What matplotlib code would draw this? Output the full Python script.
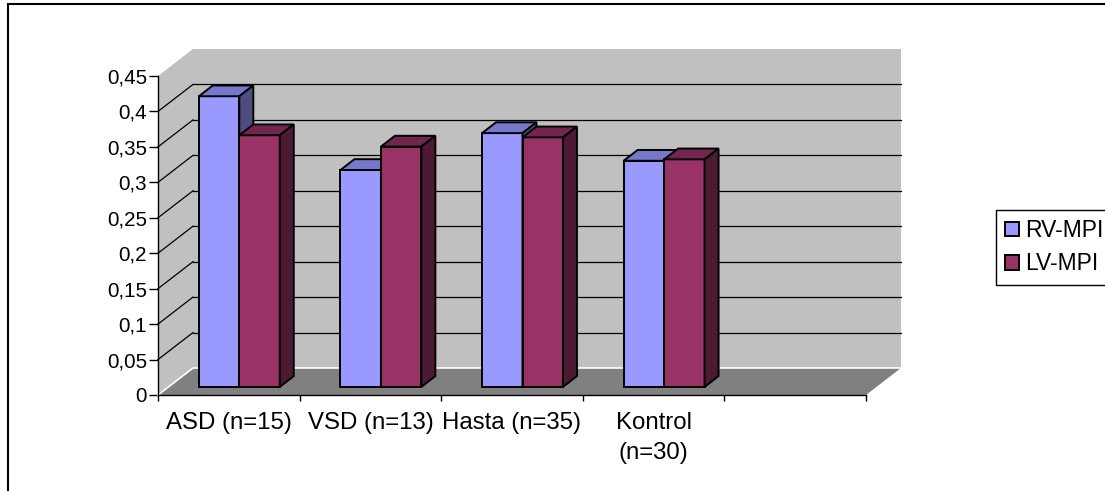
import matplotlib
matplotlib.use('Agg')
import matplotlib.pyplot as plt
from matplotlib.patches import Polygon, Patch
from matplotlib.lines import Line2D
import numpy as np

plt.rcParams['font.family'] = ['Liberation Sans', 'DejaVu Sans']

categories = ['ASD (n=15)', 'VSD (n=13)', 'Hasta (n=35)', 'Kontrol\n(n=30)']
series_names = ['RV-MPI', 'LV-MPI']
rv_mpi = [0.41, 0.306, 0.358, 0.319]
lv_mpi = [0.355, 0.339, 0.352, 0.321]
y_ticks = [0, 0.05, 0.1, 0.15, 0.2, 0.25, 0.3, 0.35, 0.4, 0.45]
y_tick_labels = ['0', '0,05', '0,1', '0,15', '0,2', '0,25', '0,3', '0,35', '0,4', '0,45']

# face colours per series: front, top, side
colors = [('#9999FF', '#7777CC', '#4D4D80'),
          ('#993366', '#73264D', '#4D1A33')]

W, H = 1105, 491
n_slots = len(categories) + 1  # one empty slot on the right, like Excel
ymax = y_ticks[-1]

fig = plt.figure(figsize=(W / 100, H / 100), dpi=100)
ax = fig.add_axes([158 / W, 96 / H, 708 / W, 319 / H])
ax.set_xlim(0, n_slots)
ax.set_ylim(0, ymax)
ax.patch.set_visible(False)

# oblique depth offset (in data units) for the fake 3D walls
DX = 35 / 708 * n_slots
DY = 27 / 319 * ymax


def proj(x, y, d):
    return (x + d * DX, y + d * DY)


def face(pts, color, z, ec='none', lw=0):
    ax.add_patch(Polygon(pts, closed=True, facecolor=color, edgecolor=ec,
                         lw=lw, zorder=z, clip_on=False, joinstyle='miter'))


# walls and floor
face([proj(0, 0, 0), proj(n_slots, 0, 0), proj(n_slots, 0, 1), proj(0, 0, 1)], '#808080', 1)
face([proj(0, 0, 1), proj(n_slots, 0, 1), proj(n_slots, ymax, 1), proj(0, ymax, 1)], '#C0C0C0', 1)
face([proj(0, 0, 0), proj(0, 0, 1), proj(0, ymax, 1), proj(0, ymax, 0)], '#C0C0C0', 1)

for v in y_ticks[1:-1]:
    (x0, y0), (x1, y1) = proj(0, v, 1), proj(n_slots, v, 1)
    ax.plot([x0, x1], [y0, y1], color='black', lw=0.9, zorder=2, clip_on=False)
    (x0, y0), (x1, y1) = proj(0, v, 0), proj(0, v, 1)
    ax.plot([x0, x1], [y0, y1], color='black', lw=0.9, zorder=2, clip_on=False)

# light edges where the walls meet the floor
pts = [proj(0, 0, 0), proj(0, 0, 1), proj(n_slots, 0, 1)]
ax.plot([p[0] for p in pts], [p[1] for p in pts], color='white', lw=1.2,
        zorder=2, clip_on=False)

# bars: gap width 150%, depth from 0.3 to 0.7
bw = 1 / (2 + 1.5)
d0, d1 = 0.3, 0.7
for i in range(len(categories)):
    for s, vals in enumerate([rv_mpi, lv_mpi]):
        v = vals[i]
        xl = i + 0.5 - bw + s * bw
        xr = xl + bw
        fc, tc, sc = colors[s]
        z = 3 + i * 0.1 + s * 0.01
        face([proj(xl, 0, d0), proj(xr, 0, d0), proj(xr, v, d0), proj(xl, v, d0)],
             fc, z, 'black', 1.4)
        face([proj(xl, v, d0), proj(xr, v, d0), proj(xr, v, d1), proj(xl, v, d1)],
             tc, z, 'black', 1.4)
        face([proj(xr, 0, d0), proj(xr, 0, d1), proj(xr, v, d1), proj(xr, v, d0)],
             sc, z, 'black', 1.4)

for side in ['top', 'right']:
    ax.spines[side].set_visible(False)
for side in ['left', 'bottom']:
    ax.spines[side].set_color('black')
    ax.spines[side].set_linewidth(1)
    ax.spines[side].set_zorder(5)

ax.set_yticks(y_ticks)
ax.set_yticklabels(y_tick_labels)
ax.tick_params(axis='y', direction='out', length=6.5, width=1, pad=1.5,
               labelsize=14.75, colors='black')

ax.set_xticks(np.arange(n_slots + 1))
ax.set_xticklabels([])
ax.tick_params(axis='x', which='major', direction='out', length=4.5, width=1)
ax.set_xticks(np.arange(len(categories)) + 0.5, minor=True)
ax.set_xticklabels(categories, minor=True)
ax.tick_params(axis='x', which='minor', length=0, pad=12, labelsize=17.3)
for t in ax.get_xticklabels(minor=True):
    t.set_linespacing(1.5)

handles = [Patch(facecolor=c[0], edgecolor='black', lw=1.4) for c in colors]
leg = fig.legend(handles, series_names, loc='upper left',
                 bbox_to_anchor=(996 / W, 1 - 210 / H), fontsize=16.5,
                 frameon=True, fancybox=False, edgecolor='black', framealpha=1,
                 handlelength=0.6, handleheight=0.6, handletextpad=0.25,
                 borderpad=0.4, labelspacing=0.45, borderaxespad=0)
leg.get_frame().set_linewidth(1)

# chart area border (runs off the right and bottom)
fig.add_artist(Line2D([8 / W, 8 / W], [0, 1 - 4 / H], transform=fig.transFigure,
                      color='black', lw=1.5))
fig.add_artist(Line2D([8 / W, 1], [1 - 4 / H, 1 - 4 / H], transform=fig.transFigure,
                      color='black', lw=1.5))

fig.savefig('out.png', dpi=100)
